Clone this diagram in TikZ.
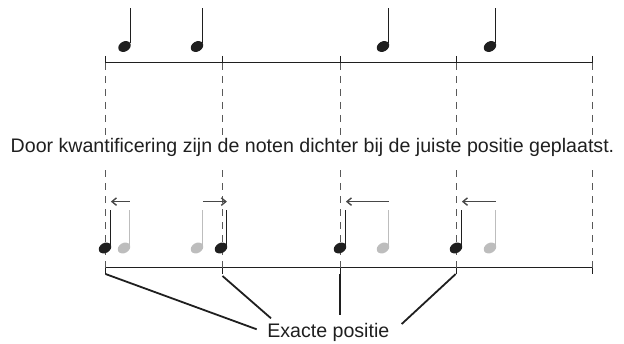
\documentclass[tikz,border=0pt]{standalone}
\usepackage{fontspec}
\setmainfont{Liberation Sans}
\usetikzlibrary{arrows.meta,shapes.geometric}

\definecolor{inkt}{gray}{0.12}
\definecolor{licht}{gray}{0.74}

\begin{document}
\begin{tikzpicture}[x=1pt,y=-1pt,
  kop/.style={ellipse,fill=#1,inner sep=0pt,minimum width=13.2pt,minimum height=10pt,rotate=30},
  kop/.default=inkt,
  steel/.style={line width=1.2pt,draw=#1},
  steel/.default=inkt,
  balk/.style={line width=1pt,draw=inkt},
  stippel/.style={line width=0.8pt,draw=black!65,dash pattern=on 7pt off 6pt},
  pijl/.style={line width=1.4pt,draw=black!72,-{Straight Barb[length=4.5pt,width=7.5pt]}},
  wijzer/.style={line width=1.8pt,draw=inkt},
  tekst/.style={text=inkt,font=\fontsize{19.6}{22}\selectfont,inner sep=0pt}]
  \useasboundingbox (0,0) rectangle (624,344);

  % tijdlijnen
  \coordinate (t1) at (105.5,63);
  \coordinate (t2) at (222,63);
  \coordinate (t3) at (340,63);
  \coordinate (t4) at (456,63);
  \coordinate (t5) at (592,63);
  \coordinate (b1) at (105.5,267.7);
  \coordinate (b2) at (222,267.7);
  \coordinate (b3) at (340,267.7);
  \coordinate (b4) at (456,267.7);
  \coordinate (b5) at (592,267.7);
  \draw[balk] (t1) -- (t5);
  \draw[balk] (b1) -- (b5);
  \draw[balk] ([yshift=7pt]t1) -- ([yshift=-7pt]t1);
  \draw[balk] ([yshift=7pt]t2) -- ([yshift=-7pt]t2);
  \draw[balk] ([yshift=7pt]t3) -- ([yshift=-7pt]t3);
  \draw[balk] ([yshift=7pt]t4) -- ([yshift=-7pt]t4);
  \draw[balk] ([yshift=7pt]t5) -- ([yshift=-7pt]t5);
  \draw[balk] ([yshift=6pt]b1) -- ([yshift=-6pt]b1);
  \draw[balk] ([yshift=6pt]b2) -- ([yshift=-6pt]b2);
  \draw[balk] ([yshift=6pt]b3) -- ([yshift=-6pt]b3);
  \draw[balk] ([yshift=6pt]b4) -- ([yshift=-6pt]b4);
  \draw[balk] ([yshift=6pt]b5) -- ([yshift=-6pt]b5);

  % hulplijnen
  \draw[stippel] (t1) -- +(0,72);
  \draw[stippel] (t2) -- +(0,72);
  \draw[stippel] (t3) -- +(0,72);
  \draw[stippel] (t4) -- +(0,72);
  \draw[stippel] (t5) -- +(0,72);
  \draw[stippel] (b1) -- +(0,-98);
  \draw[stippel] (b2) -- +(0,-98);
  \draw[stippel] (b3) -- +(0,-98);
  \draw[stippel] (b4) -- +(0,-98);
  \draw[stippel] (b5) -- +(0,-98);

  % gespeelde noten
  \node[kop] (s1) at (124.5,46.5) {};
  \node[kop] (s2) at (197,46.5) {};
  \node[kop] (s3) at (383,46.5) {};
  \node[kop] (s4) at (490,46.5) {};
  \draw[steel] (s1.east) -- ++(0,-35);
  \draw[steel] (s2.east) -- ++(0,-35);
  \draw[steel] (s3.east) -- ++(0,-35);
  \draw[steel] (s4.east) -- ++(0,-35);

  % oude plaats (grijs)
  \node[kop=licht] (g1) at (124,248) {};
  \node[kop=licht] (g2) at (197,248) {};
  \node[kop=licht] (g3) at (383,248) {};
  \node[kop=licht] (g4) at (490,248) {};
  \draw[steel=licht] (g1.east) -- ++(0,-35);
  \draw[steel=licht] (g2.east) -- ++(0,-35);
  \draw[steel=licht] (g3.east) -- ++(0,-35);
  \draw[steel=licht] (g4.east) -- ++(0,-35);

  % gekwantificeerde noten
  \node[kop] (k1) at (105,248) {};
  \node[kop] (k2) at (221,248) {};
  \node[kop] (k3) at (340,248) {};
  \node[kop] (k4) at (456,248) {};
  \draw[steel] (k1.east) -- ++(0,-35);
  \draw[steel] (k2.east) -- ++(0,-35);
  \draw[steel] (k3.east) -- ++(0,-35);
  \draw[steel] (k4.east) -- ++(0,-35);

  \draw[pijl] ([yshift=43pt]g1.east) -- ([yshift=43pt]k1.east);
  \draw[pijl] ([yshift=43pt]g2.east) -- ([yshift=43pt]k2.east);
  \draw[pijl] ([yshift=43pt]g3.east) -- ([yshift=43pt]k3.east);
  \draw[pijl] ([yshift=43pt]g4.east) -- ([yshift=43pt]k4.east);

  \node[tekst,anchor=base] (uitleg) at (312.5,152.7) {Door kwantificering zijn de noten dichter bij de juiste positie geplaatst.};
  \node[tekst,anchor=base] (exact) at (328.3,338) {Exacte positie};

  % wijzers naar het label
  \coordinate (v1) at (105.5,274);
  \coordinate (v2) at (222.5,276);
  \coordinate (v3) at (340,274);
  \coordinate (v4) at (455.7,274);
  \coordinate (e1) at (256.7,329.3);
  \coordinate (e2) at (271,318.3);
  \coordinate (e3) at (340,315);
  \coordinate (e4) at (401.7,324);
  \draw[wijzer] (v1) -- (e1);
  \draw[wijzer] (v2) -- (e2);
  \draw[wijzer] (v3) -- (e3);
  \draw[wijzer] (v4) -- (e4);
\end{tikzpicture}
\end{document}
